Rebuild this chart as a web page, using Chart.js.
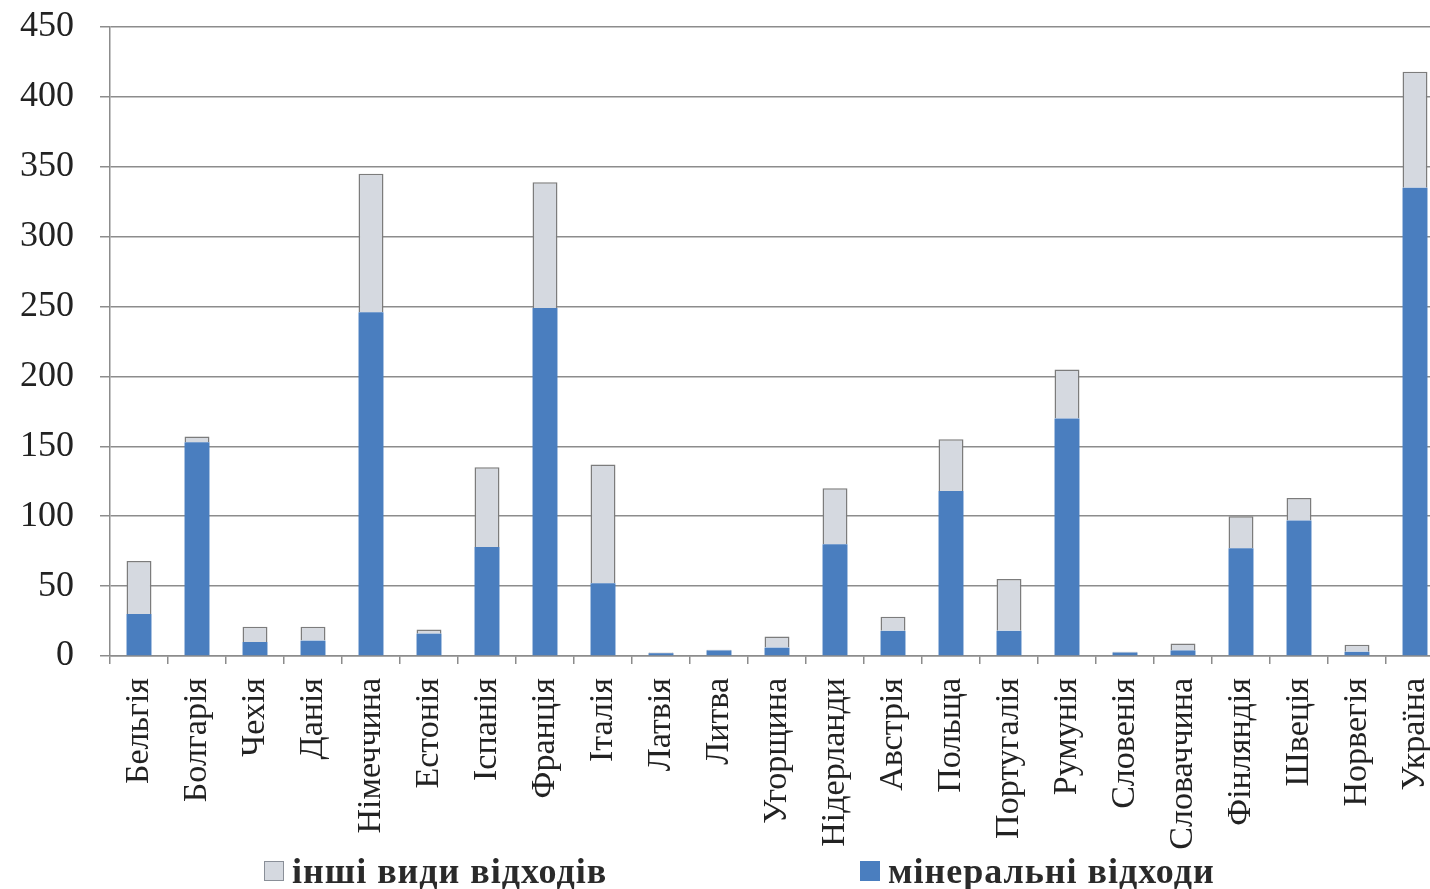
<!DOCTYPE html>
<html lang="uk">
<head>
<meta charset="utf-8">
<title>Відходи за країнами</title>
<script src="https://cdn.jsdelivr.net/npm/chart.js@4/dist/chart.umd.min.js"></script>
<style>
  html, body { margin: 0; padding: 0; background: #ffffff; overflow: hidden; }
  #wrap { position: absolute; left: 0; top: 0; width: 1450px; height: 889px; }
  #chart { display: block; width: 1450px; height: 889px; }
  .legend-item { position: absolute; top: 853px; display: flex; align-items: center;
    font-family: "Liberation Serif", "Times New Roman", serif; font-weight: bold;
    font-size: 36px; letter-spacing: 1px; color: #2a2a2a; line-height: 1; white-space: nowrap; }
  .legend-box { width: 20px; height: 20px; box-sizing: border-box; margin-right: 8px; }
</style>
</head>
<body>
<div id="wrap">
  <canvas id="chart" width="1450" height="889" style="width:1450px;height:889px;"></canvas>
  <div class="legend-item" style="left:264px;">
    <span class="legend-box" style="background:#d5d9e0;border:1.5px solid #8a8f98;"></span>інші види відходів
  </div>
  <div class="legend-item" style="left:860px;">
    <span class="legend-box" style="background:#4a7ebf;"></span>мінеральні відходи
  </div>
</div>
<script>
// Країни (категорії осі X)
const countries = [
  "Бельгія", "Болгарія", "Чехія", "Данія", "Німеччина", "Естонія", "Іспанія",
  "Франція", "Італія", "Латвія", "Литва", "Угорщина", "Нідерланди", "Австрія",
  "Польща", "Португалія", "Румунія", "Словенія", "Словаччина", "Фінляндія",
  "Швеція", "Норвегія", "Україна"
];

// Мінеральні відходи
const mineralWaste = [
  30, 153, 10, 11, 246, 16, 78, 249, 52, 2, 4, 6, 80, 18, 118, 18, 170, 2.5, 4, 77, 97, 3, 335
];

// Інші види відходів
const otherWaste = [
  38, 4, 11, 10, 99, 3, 57, 90, 85, 0.5, 0.5, 8, 40, 10, 37, 37, 35, 0.5, 5, 23, 16, 5, 83
];

// Поділки осі Y
const yMin = 0;
const yMax = 450;
const yStep = 50;

const gridColor = "#8c8c8c";
const textColor = "#222222";
const serif = "'Liberation Serif', 'Times New Roman', serif";

// Права межа області побудови (1444 px) виходить за край кадру 1430 px
const plotRight = 1444;

new Chart(document.getElementById("chart"), {
  type: "bar",
  data: {
    labels: countries,
    datasets: [
      {
        label: "мінеральні відходи",
        data: mineralWaste,
        backgroundColor: "#4a7ebf",
        borderWidth: 0,
        barPercentage: 0.43,
        categoryPercentage: 1.0
      },
      {
        label: "інші види відходів",
        data: otherWaste,
        backgroundColor: "#d5d9e0",
        borderColor: "#7c7c7c",
        borderWidth: 1.5,
        barPercentage: 0.43,
        categoryPercentage: 1.0
      }
    ]
  },
  options: {
    responsive: false,
    animation: false,
    layout: { padding: { top: 27, right: 0, bottom: 0, left: 0 } },
    plugins: {
      legend: { display: false },
      tooltip: { enabled: false }
    },
    scales: {
      x: {
        stacked: true,
        offset: true,
        grid: {
          display: true,
          drawOnChartArea: false,
          drawTicks: true,
          tickLength: 8,
          offset: true,
          color: gridColor,
          lineWidth: 1.5
        },
        border: { display: true, color: gridColor, width: 1.5 },
        ticks: {
          autoSkip: false,
          minRotation: 90,
          maxRotation: 90,
          padding: 14,
          color: textColor,
          font: { family: serif, size: 34 }
        },
        afterFit(scale) {
          scale.height = 233;
          scale.paddingRight = 0;
          scale.paddingLeft = 0;
        }
      },
      y: {
        stacked: true,
        min: yMin,
        max: yMax,
        ticks: {
          stepSize: yStep,
          padding: 26,
          color: textColor,
          font: { family: serif, size: 36 }
        },
        grid: {
          color: gridColor,
          lineWidth: 1.5,
          drawTicks: true,
          tickLength: 10
        },
        border: { display: true, color: gridColor, width: 1.5 },
        afterFit(scale) {
          scale.width = 110;
          scale.paddingTop = 0;
          scale.paddingBottom = 0;
        }
      }
    }
  },
  plugins: [{
    id: "plotRightEdge",
    beforeInit(chart) {
      chart.options.layout.padding.right = chart.width - plotRight;
    }
  }]
});
</script>
</body>
</html>
